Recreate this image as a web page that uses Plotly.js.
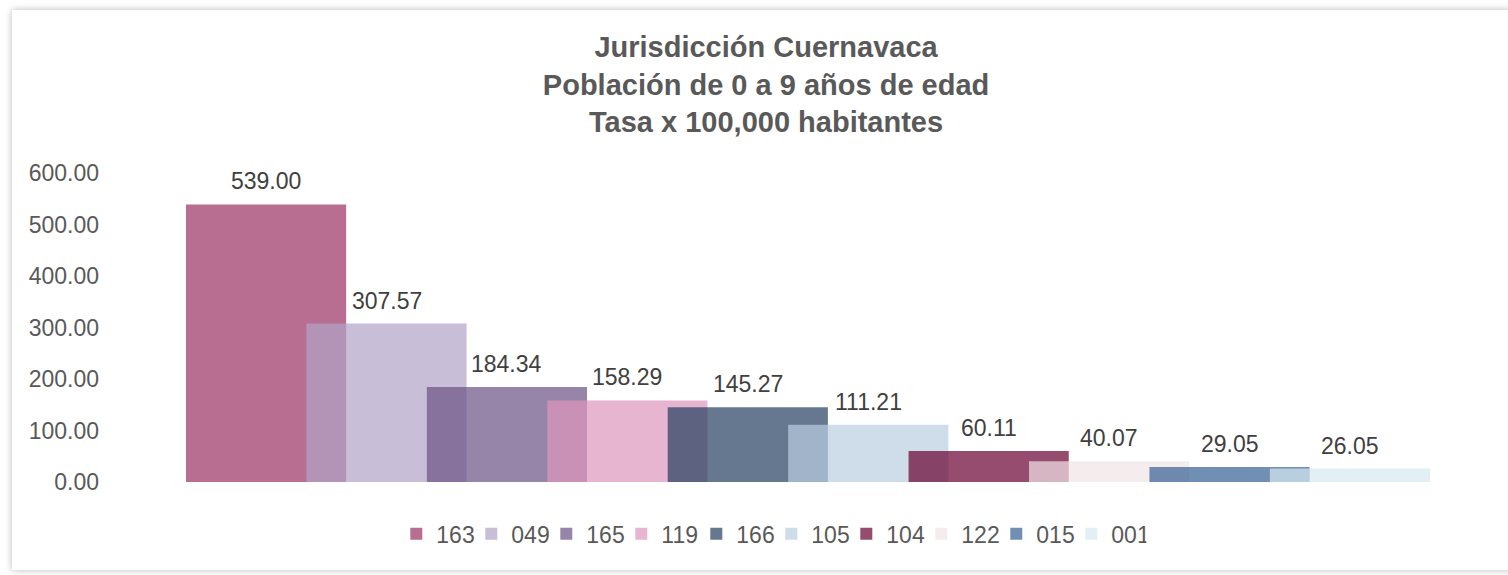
<!DOCTYPE html>
<html>
<head>
<meta charset="utf-8">
<script src="https://cdn.plot.ly/plotly-3.0.1.min.js"></script>
<style>
  body { margin: 0; background: #ffffff; }
  #frame {
    position: absolute; left: 12px; top: 10px; width: 1500px; height: 560px;
    background: #ffffff; box-shadow: 0 0 7px rgba(0, 0, 0, 0.28);
  }
  #statsCanvas { position: absolute; left: 0; top: 0; width: 1508px; height: 575px; }
</style>
</head>
<body>
<div id="frame"></div>
<div id="statsCanvas"></div>
<script>
var localidades = ['163', '049', '165', '119', '166', '105', '104', '122', '015', '001'];
var tasas = [539.00, 307.57, 184.34, 158.29, 145.27, 111.21, 60.11, 40.07, 29.05, 26.05];
var colores = [
  'rgba(152,48,98,0.7)', 'rgba(176,162,198,0.7)', 'rgba(105,81,132,0.7)',
  'rgba(222,149,188,0.7)', 'rgba(36,62,95,0.7)', 'rgba(186,205,225,0.7)',
  'rgba(104,0,48,0.7)', 'rgba(241,228,229,0.7)', 'rgba(52,96,145,0.7)',
  'rgba(214,234,241,0.7)'
];
var yTicks = [0, 100, 200, 300, 400, 500, 600];

var FONT = '"Liberation Sans", Arial, sans-serif';

var data = [];
var etiquetas = [];
for (var i = 0; i < localidades.length; i++) {
  data.push({
    type: 'bar',
    name: localidades[i],
    x: [i],
    y: [tasas[i]],
    width: 1.33,
    marker: {color: colores[i], line: {width: 0}},
    hoverinfo: 'none'
  });
  // value labels sit a bit above each bar, like the original
  etiquetas.push({
    x: i,
    y: tasas[i],
    xref: 'x',
    yref: 'y',
    text: tasas[i].toFixed(2),
    showarrow: false,
    yanchor: 'bottom',
    yshift: 8,
    font: {family: FONT, size: 23, color: '#404040'}
  });
}

var layout = {
  width: 1508,
  height: 575,
  paper_bgcolor: 'rgba(0,0,0,0)',
  plot_bgcolor: 'rgba(0,0,0,0)',
  margin: {l: 100, r: 60, t: 173, b: 93},
  barmode: 'overlay',
  title: {
    text: 'Jurisdicción Cuernavaca<br>Población de 0 a 9 años de edad<br>Tasa x 100,000 habitantes',
    font: {family: FONT, size: 29, color: '#595959', weight: 'bold'},
    x: 0.508,
    xanchor: 'center',
    y: 0.901,
    yanchor: 'top'
  },
  xaxis: {
    range: [-1.379, 9.814],
    showticklabels: false,
    showgrid: false,
    zeroline: false,
    showline: false,
    fixedrange: true
  },
  yaxis: {
    range: [0, 600],
    tickvals: yTicks,
    tickformat: '.2f',
    showgrid: false,
    zeroline: false,
    showline: false,
    tickfont: {family: FONT, size: 23, color: '#595959'},
    fixedrange: true
  },
  annotations: etiquetas,
  showlegend: true,
  legend: {
    orientation: 'h',
    x: 0.498,
    xanchor: 'center',
    y: -0.168,
    yanchor: 'middle',
    font: {family: FONT, size: 23, color: '#595959'},
    entrywidth: 30,
    itemclick: false,
    itemdoubleclick: false
  }
};

Plotly.newPlot('statsCanvas', data, layout, {displayModeBar: false, staticPlot: true});
</script>
</body>
</html>
